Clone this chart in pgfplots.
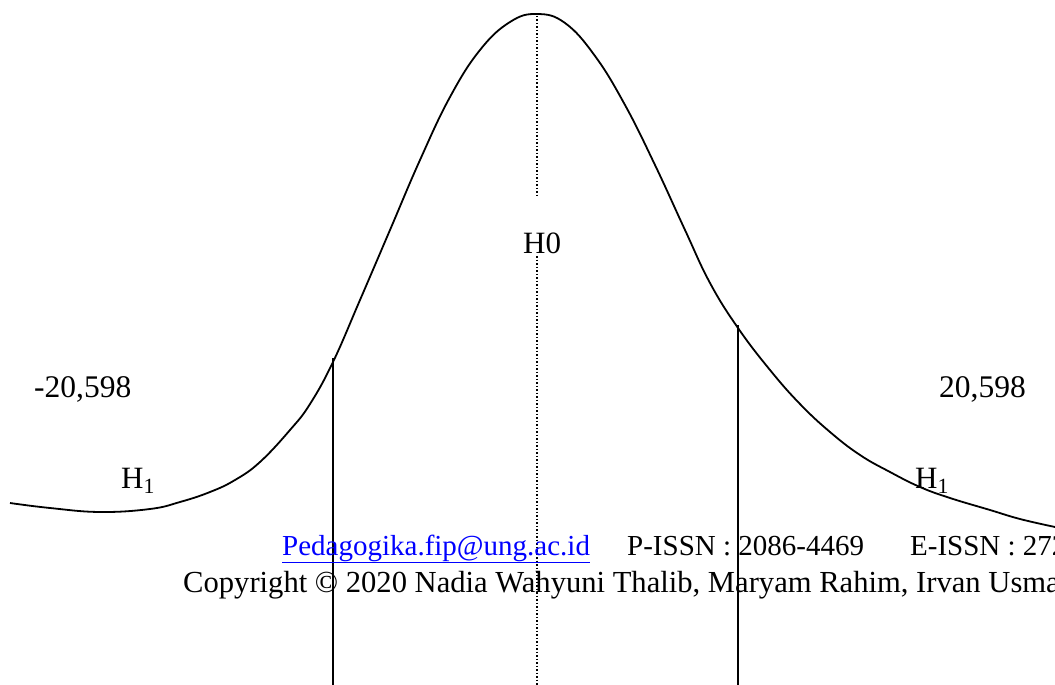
\documentclass[border=0pt]{standalone}
\usepackage{pgfplots}
\pgfplotsset{compat=1.18}
\usepackage{fontspec}
\setmainfont{Liberation Serif}
\tikzset{lbl/.style={inner sep=0pt, anchor=base west, font=\fontsize{29}{32}\selectfont},
         big/.style={lbl, font=\fontsize{31.5}{34}\selectfont}}
\begin{document}
\begin{tikzpicture}
\path[use as bounding box] (0,0) rectangle (1055pt,685pt);
\begin{axis}[at={(0,0)}, anchor=south west, scale only axis,
  width=1055pt, height=685pt, xmin=0, xmax=1055, ymin=0, ymax=685,
  y dir=reverse, hide axis, clip=false]
% bell curve (pixel coordinates, y downwards)
\addplot[black, line width=1.8pt, smooth, tension=0.7] coordinates {
(10,503) (50,508) (100,512) (150,509) (180,502) (210,492) (235,480) (260,462)
(290,430) (310,404) (333,362) (360,300) (390,230) (420,160) (450,97) (480,50)
(510,22) (537,14) (565,23) (595,56) (625,105) (655,165) (685,230) (710,283)
(738,328) (770,370) (800,404) (830,432) (860,455) (890,472) (920,487) (950,498)
(990,510) (1020,519) (1055,527)};
% critical lines
\addplot[black, line width=2.2pt] coordinates {(333,358) (333,685)};
\addplot[black, line width=2.2pt] coordinates {(738,325) (738,685)};
% mean line (dotted)
\addplot[black, dotted, line width=1.5pt] coordinates {(537,16) (537,195)};
\addplot[black, dotted, line width=1.5pt] coordinates {(537,256) (537,685)};
% labels
\node[big] at (axis cs:34,397) {-20,598};
\node[big] at (axis cs:939,397) {20,598};
\node[big, font=\fontsize{31}{34}\selectfont] at (axis cs:523,253) {H0};
\node[big, font=\fontsize{31}{34}\selectfont] at (axis cs:121,488) {H\textsubscript{1}};
\node[big, font=\fontsize{31}{34}\selectfont] at (axis cs:915,488) {H\textsubscript{1}};
% footer text (cut off at the right edge, as in the source page)
\node[lbl] at (axis cs:282,555) {\textcolor{blue}{\underline{Pedagogika.fip@ung.ac.id}}};
\node[lbl] at (axis cs:627,555) {P-ISSN : 2086-4469};
\node[lbl] at (axis cs:910,555) {E-ISSN : 2721-4788};
\node[lbl, font=\fontsize{30.6}{33}\selectfont] at (axis cs:183,592) {Copyright \textcopyright{} 2020 Nadia Wahyuni Thalib, Maryam Rahim, Irvan Usman};
\end{axis}
\end{tikzpicture}
\end{document}
